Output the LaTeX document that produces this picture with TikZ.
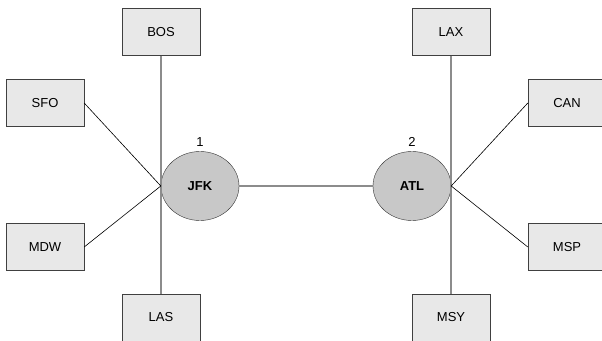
\documentclass[tikz,border=0pt]{standalone}
\usepackage{fontspec}
\setmainfont{Liberation Sans}
\usetikzlibrary{positioning,shapes.geometric}
\definecolor{boxfill}{HTML}{E8E8E8}
\definecolor{hubfill}{HTML}{C8C8C8}
\definecolor{trunk}{HTML}{8C8C8C}
\tikzset{
  airport/.style={rectangle,draw=black!75,fill=boxfill,minimum width=78pt,minimum height=47pt,
    font=\fontsize{13}{15}\selectfont},
  hub/.style={ellipse,draw=black!80,fill=hubfill,minimum width=78pt,minimum height=69pt,
    font=\fontsize{13}{15}\selectfont\bfseries,
    label={[font=\fontsize{13}{15}\selectfont,label distance=1pt]above:#1}},
  spoke/.style={black,line width=0.6pt},
  trunkline/.style={trunk,line width=1.3pt}
}

\begin{document}
\begin{tikzpicture}[x=1pt,y=1pt,on grid]
              \useasboundingbox (0,0) rectangle (602,340);

              \node[hub=1] (jfk) at (200,154) {JFK};
              \node[hub=2] (atl) [right=212pt of jfk] {ATL};

              \node[airport] (bos) [above left=154pt and 39pt of jfk] {BOS};
              \node[airport] (sfo) [above left=83pt and 155pt of jfk] {SFO};
              \node[airport] (mdw) [below left=61pt and 155pt of jfk] {MDW};
              \node[airport] (las) [below left=131.5pt and 39pt of jfk] {LAS};

              \node[airport] (lax) [above right=154pt and 39pt of atl] {LAX};
              \node[airport] (can) [above right=83pt and 155pt of atl] {CAN};
              \node[airport] (msp) [below right=61pt and 155pt of atl] {MSP};
              \node[airport] (msy) [below right=131.5pt and 39pt of atl] {MSY};

              \draw[trunkline] (bos.south) -- (las.north);
              \draw[trunkline] (lax.south) -- (msy.north);
              \draw[trunkline] (jfk.east) -- (atl.west);

              \draw[spoke] (sfo.east) -- (jfk.west);
              \draw[spoke] (mdw.east) -- (jfk.west);
              \draw[spoke] (atl.east) -- (can.west);
              \draw[spoke] (atl.east) -- (msp.west);
            \end{tikzpicture}
\end{document}
